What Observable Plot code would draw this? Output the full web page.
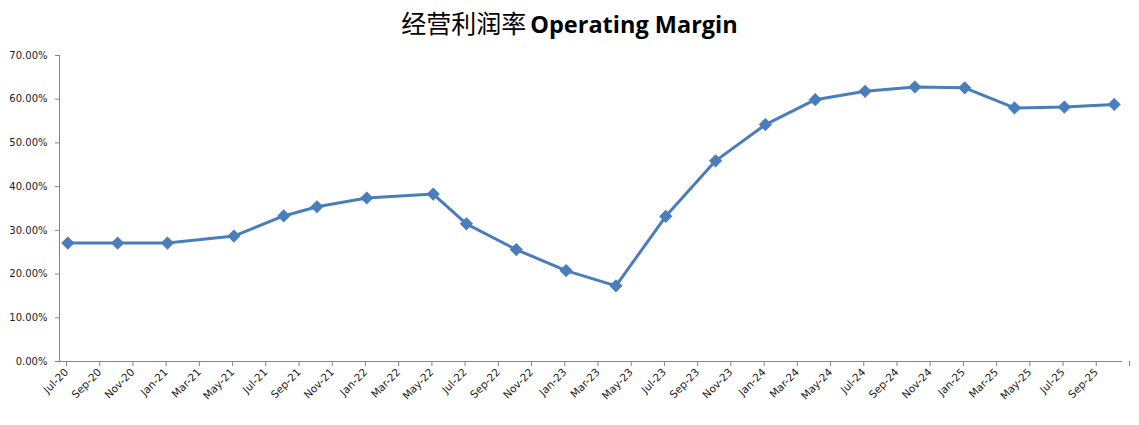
<!DOCTYPE html>
<html><head><meta charset="utf-8">
<script src="https://cdn.jsdelivr.net/npm/d3@7"></script>
<script src="https://cdn.jsdelivr.net/npm/@observablehq/plot@0.6"></script>
<style>
body{margin:0;background:#fff;width:1139px;}
#title{height:40px;line-height:44px;text-align:center;color:#000;white-space:nowrap;}
#title .zh{font-family:"Noto Sans CJK SC";font-weight:400;font-size:25px;}
#title .en{font-family:"Open Sans";font-weight:700;font-size:23.5px;}
</style></head>
<body>
<div id="title"><span class="zh">经营利润率</span> <span class="en">Operating Margin</span></div>
<div id="chart"></div>
<script>
const months = ["2020-07","2020-10","2021-01","2021-05","2021-08","2021-10","2022-01","2022-05","2022-07","2022-10","2023-01","2023-04","2023-07","2023-10","2024-01","2024-04","2024-07","2024-10","2025-01","2025-04","2025-07","2025-10"];
const margins = [27.1,27.1,27.1,28.7,33.3,35.4,37.4,38.3,31.5,25.6,20.8,17.3,33.2,45.9,54.2,59.9,61.8,62.8,62.6,58.0,58.2,58.8];
const tickLabels = ["Jul-20","Sep-20","Nov-20","Jan-21","Mar-21","May-21","Jul-21","Sep-21","Nov-21","Jan-22","Mar-22","May-22","Jul-22","Sep-22","Nov-22","Jan-23","Mar-23","May-23","Jul-23","Sep-23","Nov-23","Jan-24","Mar-24","May-24","Jul-24","Sep-24","Nov-24","Jan-25","Mar-25","May-25","Jul-25","Sep-25"];
const yTicks = [0,10,20,30,40,50,60,70];

const monthIndex = s => { const [y,m] = s.split("-").map(Number); return (y-2020)*12 + (m-7); };
const data = months.map((m,i) => ({x: monthIndex(m) + 0.5, y: margins[i]}));
const nMonths = monthIndex("2025-10") + 1;
const color = "#4a7ebb";
const axisColor = "#868686";

const chart = Plot.plot({
  width: 1139,
  height: 385,
  marginTop: 15,
  marginBottom: 64,
  marginLeft: 59,
  marginRight: 17,
  style: {fontFamily: "DejaVu Sans", fontSize: "10px", color: "#1a1a1a", background: "#fff"},
  x: {type: "linear", domain: [0, nMonths]},
  y: {domain: [0, 70]},
  marks: [
    Plot.axisY({ticks: yTicks, tickFormat: d => d.toFixed(2) + "%", tickSize: 4, tickPadding: 8, stroke: axisColor, label: null}),
    Plot.axisX({ticks: d3.range(0, nMonths + 1, 2), tickFormat: i => tickLabels[i/2] ?? "", tickRotate: -45, tickSize: 5, tickPadding: 4, stroke: axisColor, label: null, dx: 7, fontSize: 10.5}),
    Plot.ruleY([0], {stroke: axisColor}),
    Plot.ruleX([0], {stroke: axisColor}),
    Plot.line(data, {x: "x", y: "y", stroke: color, strokeWidth: 3}),
    Plot.dot(data, {x: "x", y: "y", symbol: "diamond2", r: 5, fill: color, stroke: color})
  ]
});
document.getElementById("chart").appendChild(chart);
</script>
</body></html>
